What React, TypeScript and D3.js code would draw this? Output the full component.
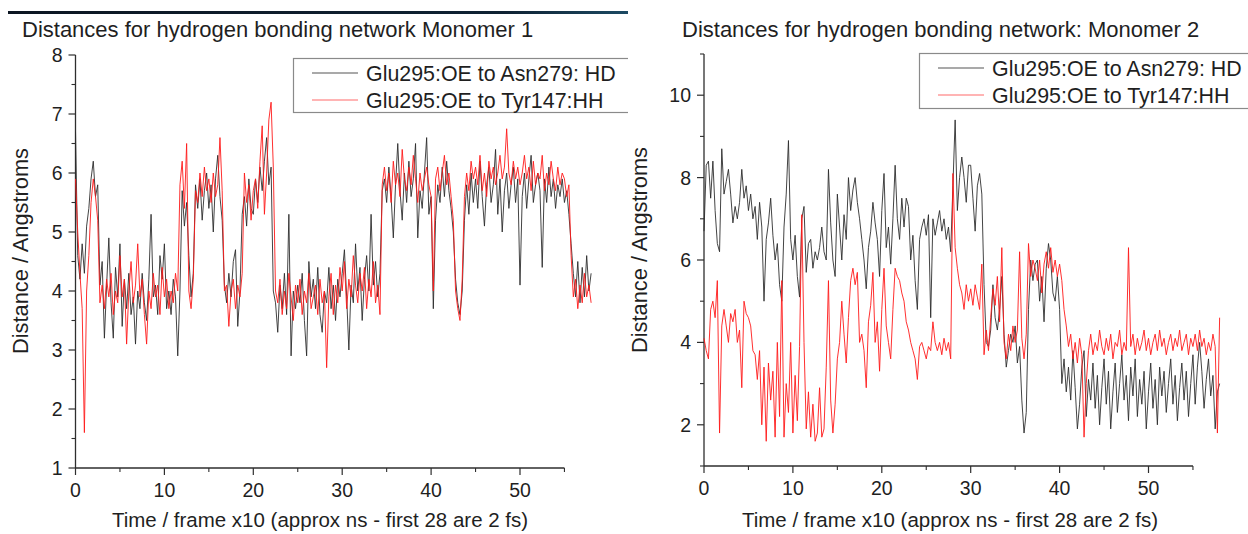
import React from "react";
import * as d3 from "d3";

// time resolution of the sampled series (frame x10 units)
const STEP = 0.25;
const X_DOMAIN: [number, number] = [0, 55];
const xMajor = [0, 10, 20, 30, 40, 50];
const xMinor = [5, 15, 25, 35, 45, 55];
const yMajor1 = [1, 2, 3, 4, 5, 6, 7, 8];
const yMinor1 = [1.5, 2.5, 3.5, 4.5, 5.5, 6.5, 7.5];
const yMajor2 = [2, 4, 6, 8, 10];
const yMinor2 = [1, 3, 5, 7, 9, 11];

const seriesNames = ["Glu295:OE to Asn279: HD", "Glu295:OE to Tyr147:HH"];
const titles = [
  "Distances for hydrogen bonding network Monomer 1",
  "Distances for hydrogen bonding network: Monomer 2",
];
const xLabel = "Time / frame x10 (approx ns - first 28 are 2 fs)";
const yLabel = "Distance / Angstroms";

// Monomer 1 : Glu295:OE to Asn279:HD
const m1Asn = [
  6.7, 4.6, 4.2, 4.8, 4.3, 5.1, 5.4, 5.9, 6.2, 5.6, 5.8, 4.1, 4.5, 3.2, 4.1, 4.9, 3.8, 3.2, 4.4, 3.9,
  4.8, 3.4, 4.2, 3.7, 4.3, 3.6, 3.9, 3.1, 4.0, 3.7, 4.3, 3.8, 3.5, 4.2, 5.3, 3.9, 4.1, 3.6, 4.6, 4.2,
  4.8, 3.7, 4.0, 3.6, 4.2, 3.9, 2.9, 4.0, 5.7, 5.1, 5.5, 4.6, 3.9, 4.3, 5.8, 5.4, 5.9, 5.2, 5.7, 6.0,
  5.4, 5.8, 5.0, 5.9, 6.3, 5.6, 5.2, 4.1, 3.8, 4.3, 3.9, 4.5, 4.7, 3.4, 4.0, 5.3, 5.6, 5.1, 5.9, 5.4,
  5.3, 5.9, 5.5, 6.1, 5.7, 6.2, 6.6, 5.8, 6.1, 4.0, 3.8, 3.3, 4.1, 3.7, 4.3, 3.6, 5.3, 2.9, 4.0, 3.7,
  4.1, 3.8, 4.3, 3.5, 2.9, 4.5, 3.9, 4.2, 3.7, 4.4, 3.6, 3.3, 4.0, 3.8, 4.4, 3.7, 4.1, 3.5, 4.2, 3.9,
  4.3, 4.7, 3.9, 3.0, 4.1, 3.8, 4.8, 4.0, 4.4, 3.5, 4.2, 4.6, 4.0, 5.3, 4.1, 4.5, 3.9, 4.3, 5.7, 5.9,
  5.5, 6.1, 5.6, 4.9, 5.8, 6.5, 5.7, 5.2, 6.0, 5.5, 6.2, 5.6, 5.9, 6.5, 4.9, 5.7, 5.4, 6.0, 6.6, 5.3,
  5.6, 3.7, 5.2, 5.8, 5.5, 6.1, 5.6, 6.2, 5.7, 5.4, 5.0, 4.2, 3.8, 3.6, 4.0, 5.2, 5.8, 5.3, 6.0, 5.5,
  5.9, 5.4, 6.2, 5.6, 5.1, 5.8, 6.1, 5.5, 5.8, 6.4, 5.3, 5.9, 5.0, 5.7, 6.0, 5.4, 5.8, 6.1, 5.5, 5.9,
  4.1, 5.6, 6.0, 5.4, 5.9, 6.3, 5.5, 5.8, 6.0, 5.7, 4.4, 5.9, 5.5, 6.1, 5.6, 5.9, 5.4, 5.8, 5.6, 5.9,
  5.5, 5.7, 5.3, 4.8, 4.3, 3.9, 4.5, 3.8, 4.4, 3.9, 4.6, 4.0, 4.3,
];

// Monomer 1 : Glu295:OE to Tyr147:HH
const m1Tyr = [
  5.9, 5.0, 4.3, 3.7, 1.6, 4.0, 4.6, 5.5, 5.9, 5.6, 5.2, 3.8, 4.1, 3.7, 4.2, 3.9, 4.3, 3.6, 4.0, 3.8,
  4.6, 3.9, 4.2, 3.1, 4.0, 4.5, 3.8, 4.1, 4.8, 3.9, 4.2, 3.6, 3.1, 4.0, 3.7, 4.3, 3.9, 4.1, 3.6, 4.4,
  3.9, 4.2, 3.7, 4.0, 3.8, 4.3, 4.0, 5.8, 6.2, 5.4, 6.5, 4.0, 3.7, 4.2, 5.7, 5.5, 6.0, 5.6, 6.1, 5.7,
  5.9, 5.5, 6.0, 5.6, 5.8, 6.6, 5.7, 4.0, 4.1, 3.4, 4.0, 4.2, 3.7, 4.1, 3.9, 4.3, 6.0, 5.5, 5.8, 5.2,
  5.7, 5.9, 5.4, 6.2, 6.8, 5.3, 6.0, 6.9, 7.2, 6.1, 4.0, 3.8, 4.2, 3.6, 4.0, 3.7, 4.3, 3.9, 3.5, 4.1,
  3.8, 4.2, 3.6, 4.0, 3.8, 4.3, 3.7, 3.9, 4.1, 3.6, 4.2, 3.8, 4.0, 2.7, 3.9, 4.3, 3.6, 4.1, 3.8, 4.4,
  4.0, 4.5, 3.7, 4.2, 3.9, 4.6, 4.1, 3.8, 4.3, 4.0, 4.4, 3.7, 4.2, 3.9, 4.5, 3.8, 4.1, 3.6, 5.8, 6.1,
  5.7, 6.0, 5.5, 6.2, 5.8, 6.0, 5.6, 6.4, 5.9, 5.7, 6.1, 5.8, 6.3, 5.9, 5.5, 6.0, 5.7, 5.9, 6.1, 5.8,
  5.6, 4.0, 5.9, 6.1, 5.7, 6.0, 6.3, 5.8, 6.0, 5.6, 5.2, 4.0, 3.7, 3.5, 4.2, 5.6, 6.0, 5.7, 6.2, 5.9,
  6.1, 5.8, 6.3, 5.7, 6.0, 5.6, 6.2, 5.9, 6.1, 5.8, 6.0, 6.3, 5.9, 6.1, 6.75, 6.0, 5.8, 6.2, 5.9, 6.1,
  5.8, 6.0, 6.3, 5.9, 6.1, 5.7, 6.2, 5.8, 6.0, 5.9, 6.3, 5.7, 6.0, 5.8, 6.2, 5.9, 5.7, 6.1, 5.8, 6.0,
  5.9, 5.6, 5.8, 4.6, 3.9, 4.2, 3.7, 4.1, 3.8, 4.3, 3.9, 4.1, 3.8,
];

// Monomer 2 : Glu295:OE to Asn279:HD
const m2Asn = [
  6.7, 8.3, 8.4, 7.5, 8.4, 7.2, 6.4, 6.2, 8.7, 7.6, 7.9, 8.2, 7.6, 6.9, 7.3, 7.0, 7.4, 8.2, 7.5, 7.8,
  7.2, 7.6, 7.0, 7.3, 6.5, 7.4, 6.8, 5.0, 6.5, 6.9, 7.5, 6.6, 6.0, 6.4, 5.4, 5.0, 6.8, 7.6, 8.9, 6.5,
  6.0, 6.6, 5.6, 5.1, 7.0, 7.3, 5.7, 6.4, 6.5, 5.8, 6.2, 6.0, 6.3, 6.8, 6.2, 6.0, 8.2, 6.9, 6.0, 5.6,
  7.6, 6.8, 6.0, 7.1, 6.5, 8.0, 7.2, 7.7, 8.0, 7.4, 7.0, 6.5, 6.0, 5.3, 6.3, 6.7, 7.4, 6.9, 6.5, 5.6,
  7.2, 8.1, 6.3, 6.8, 5.9, 7.0, 8.3, 7.0, 6.5, 7.5, 6.8, 7.5, 7.3, 6.0, 6.6, 5.5, 4.8, 6.5, 6.8, 7.0,
  6.6, 7.1, 4.6, 7.0, 6.6, 6.9, 7.2, 6.7, 7.0, 6.5, 6.8, 6.2, 7.8, 9.4, 7.2, 8.0, 8.5, 8.0, 7.4, 8.3,
  8.3, 7.5, 6.7, 7.8, 8.1, 7.6, 5.4, 4.0, 3.9, 4.3, 5.4, 4.6, 4.3, 4.8, 5.6, 4.2, 3.4, 3.8, 4.2, 4.0,
  4.4, 3.5, 3.9, 2.6, 1.8, 2.3, 4.8, 6.0, 5.5, 5.9, 6.0, 5.0, 5.6, 4.5, 5.8, 6.4, 6.0, 5.2, 5.0, 5.6,
  4.8, 3.0, 3.6, 2.8, 3.4, 2.6, 3.8, 2.9, 1.9, 2.5, 3.4, 3.8, 2.2, 3.1, 2.6, 3.5, 2.4, 3.2, 2.0, 2.9,
  3.6, 2.5, 3.3, 1.9, 2.8, 3.5, 2.3, 3.0, 3.7, 2.6, 3.2, 2.1, 3.4, 2.7, 3.6, 2.2, 3.1, 2.5, 3.3, 1.9,
  2.8, 3.5, 2.4, 3.1, 2.0, 3.4, 2.7, 3.3, 2.3, 3.0, 3.6, 2.5, 3.2, 2.1, 2.9, 3.5, 2.6, 3.3, 2.2, 3.0,
  3.7, 2.5, 3.4, 4.0, 3.3, 2.4, 3.1, 3.6, 2.7, 3.2, 1.9, 2.8, 3.0,
];

// Monomer 2 : Glu295:OE to Tyr147:HH
const m2Tyr = [
  4.1, 3.8, 3.6, 4.8, 5.0, 4.6, 5.5, 1.8, 4.4, 4.8, 4.4, 4.0, 4.7, 4.5, 4.8, 4.0, 4.3, 2.9, 5.0, 4.7,
  4.6, 4.4, 3.8, 3.7, 3.1, 3.8, 2.0, 3.4, 1.6, 3.5, 2.6, 3.3, 1.7, 4.0, 2.2, 5.5, 1.7, 3.0, 2.3, 4.0,
  1.8, 3.2, 2.1, 3.9, 7.1, 4.0, 1.9, 2.8, 1.7, 2.5, 1.6, 1.8, 2.9, 1.7, 1.9, 3.4, 5.5, 2.6, 1.8, 2.5,
  3.6, 4.0, 5.0, 4.2, 3.5, 4.6, 5.5, 5.8, 5.4, 5.7, 4.0, 4.2, 3.8, 2.9, 4.5, 4.9, 5.7, 4.0, 4.5, 3.3,
  4.8, 5.8, 4.4, 4.0, 3.6, 4.8, 5.8, 5.6, 5.5, 5.2, 5.0, 4.5, 4.3, 4.0, 3.8, 3.6, 3.1, 3.9, 4.0, 3.8,
  3.6, 3.9, 3.8, 4.5, 4.0, 3.8, 4.0, 3.7, 4.1, 3.8, 4.0, 3.6, 8.1, 6.3, 5.8, 5.4, 5.2, 4.8, 5.4, 5.0,
  5.3, 4.9, 5.4, 5.1, 4.8, 5.9, 3.7, 4.3, 3.8, 4.6, 5.3, 4.9, 5.6, 4.5, 6.3, 4.0, 3.6, 4.2, 3.8, 4.4,
  4.0, 4.3, 6.2, 4.1, 3.6, 4.2, 6.4, 5.6, 6.0, 5.8, 5.5, 6.0, 5.2, 5.9, 6.2, 5.8, 6.3, 5.7, 6.0, 5.6,
  5.9, 5.5, 4.8, 4.4, 3.9, 4.2, 3.6, 4.0, 3.5, 4.1, 3.7, 1.7, 3.0, 3.8, 4.2, 3.7, 4.0, 3.8, 4.3, 3.9,
  3.7, 4.1, 3.8, 4.2, 3.6, 4.0, 3.9, 4.3, 3.7, 4.0, 3.8, 6.3, 3.9, 4.2, 3.7, 4.1, 3.8, 4.0, 4.3, 3.8,
  4.1, 3.7, 4.0, 4.2, 3.8, 4.3, 3.9, 4.1, 3.7, 4.0, 4.2, 3.8, 4.1, 3.9, 4.3, 3.8, 4.0, 4.2, 3.7, 4.1,
  3.9, 4.2, 3.8, 4.3, 3.9, 4.1, 3.7, 4.0, 3.8, 4.2, 3.9, 1.8, 4.6,
];

const FONT = "'Liberation Sans', Arial, Helvetica, sans-serif";
const TEXT = "#1f1f1f";
const AXIS = "#2e2e2e";
const BLACK_LINE = "#2a2a2a";
const RED_LINE = "#ff1a1a";

type PanelCfg = {
  left: number;
  right: number;
  top: number;
  bottom: number;
  yDomain: [number, number];
  yMajor: number[];
  yMinor: number[];
  asn: number[];
  tyr: number[];
  title: string;
  titleX: number;
  titleY: number;
  xLabelX: number;
  xLabelY: number;
  yLabelX: number;
  yLabelY: number;
  xTickY: number;
  legendX: number;
  legendY: number;
  legendH: number;
  legendRow1: number;
  legendRow2: number;
  clip?: string;
};

function Panel({ cfg }: { cfg: PanelCfg }) {
  const x = d3.scaleLinear().domain(X_DOMAIN).range([cfg.left, cfg.right]);
  const y = d3.scaleLinear().domain(cfg.yDomain).range([cfg.bottom, cfg.top]);
  const line = d3
    .line<number>()
    .x((_, i) => x(i * STEP))
    .y((d) => y(d));
  const x0 = x(0);
  const yb = y(cfg.yDomain[0]);
  const major = 7;
  const minor = 4;
  const legLineX1 = cfg.legendX + 19;
  const legLineX2 = cfg.legendX + 65;
  const legTextX = cfg.legendX + 73;
  return (
    <g clipPath={cfg.clip ? `url(#${cfg.clip})` : undefined}>
      <text x={cfg.titleX} y={cfg.titleY} fontSize={22} fill={TEXT} fontFamily={FONT}>
        {cfg.title}
      </text>
      {/* y axis */}
      <line x1={x0} x2={x0} y1={yb} y2={y(cfg.yDomain[1])} stroke={AXIS} strokeWidth={1.3} />
      {cfg.yMajor.map((v) => (
        <g key={"ym" + v}>
          <line x1={x0 - major} x2={x0} y1={y(v)} y2={y(v)} stroke={AXIS} strokeWidth={1.2} />
          <text
            x={x0 - 13}
            y={y(v) + 7}
            textAnchor="end"
            fontSize={19.5}
            fill={TEXT}
            fontFamily={FONT}
          >
            {v}
          </text>
        </g>
      ))}
      {cfg.yMinor.map((v) => (
        <line key={"yn" + v} x1={x0 - minor} x2={x0} y1={y(v)} y2={y(v)} stroke={AXIS} strokeWidth={1.1} />
      ))}
      {/* x axis */}
      <line x1={x0} x2={x(X_DOMAIN[1])} y1={yb} y2={yb} stroke={AXIS} strokeWidth={1.3} />
      {xMajor.map((v) => (
        <g key={"xm" + v}>
          <line x1={x(v)} x2={x(v)} y1={yb} y2={yb + major} stroke={AXIS} strokeWidth={1.2} />
          <text
            x={x(v)}
            y={cfg.xTickY}
            textAnchor="middle"
            fontSize={19.5}
            fill={TEXT}
            fontFamily={FONT}
          >
            {v}
          </text>
        </g>
      ))}
      {xMinor.map((v) => (
        <line key={"xn" + v} x1={x(v)} x2={x(v)} y1={yb} y2={yb + minor} stroke={AXIS} strokeWidth={1.1} />
      ))}
      {/* axis labels */}
      <text
        x={cfg.xLabelX}
        y={cfg.xLabelY}
        textAnchor="middle"
        fontSize={20.5}
        fill={TEXT}
        fontFamily={FONT}
      >
        {xLabel}
      </text>
      <text
        transform={`translate(${cfg.yLabelX},${cfg.yLabelY}) rotate(-90)`}
        textAnchor="middle"
        fontSize={21.8}
        fill={TEXT}
        fontFamily={FONT}
      >
        {yLabel}
      </text>
      {/* series */}
      <path d={line(cfg.asn) || ""} fill="none" stroke={BLACK_LINE} strokeWidth={1} strokeOpacity={0.88} />
      <path d={line(cfg.tyr) || ""} fill="none" stroke={RED_LINE} strokeWidth={1} strokeOpacity={0.9} />
      {/* legend */}
      <rect
        x={cfg.legendX + 0.5}
        y={cfg.legendY + 0.5}
        width={360}
        height={cfg.legendH}
        fill="#fff"
        stroke="#8a8a8a"
        strokeWidth={1.2}
      />
      <line x1={legLineX1} x2={legLineX2} y1={cfg.legendRow1} y2={cfg.legendRow1} stroke="#555" strokeWidth={1.2} />
      <line x1={legLineX1} x2={legLineX2} y1={cfg.legendRow2} y2={cfg.legendRow2} stroke="#ff6a6a" strokeWidth={1.2} />
      <text x={legTextX} y={cfg.legendRow1 + 7.5} fontSize={21.4} fill={TEXT} fontFamily={FONT}>
        {seriesNames[0]}
      </text>
      <text x={legTextX} y={cfg.legendRow2 + 7.5} fontSize={21.4} fill={TEXT} fontFamily={FONT}>
        {seriesNames[1]}
      </text>
    </g>
  );
}

const panel1: PanelCfg = {
  left: 75.5,
  right: 75.5 + 55 * 8.89,
  top: 55,
  bottom: 468,
  yDomain: [1, 8],
  yMajor: yMajor1,
  yMinor: yMinor1,
  asn: m1Asn,
  tyr: m1Tyr,
  title: titles[0],
  titleX: 22,
  titleY: 37,
  xLabelX: 320,
  xLabelY: 527,
  yLabelX: 28,
  yLabelY: 251,
  xTickY: 497,
  legendX: 293,
  legendY: 58,
  legendH: 54,
  legendRow1: 73,
  legendRow2: 100,
  clip: "leftClip",
};

const panel2: PanelCfg = {
  left: 704,
  right: 704 + 55 * 8.89,
  top: 54,
  bottom: 466,
  yDomain: [1, 11],
  yMajor: yMajor2,
  yMinor: yMinor2,
  asn: m2Asn,
  tyr: m2Tyr,
  title: titles[1],
  titleX: 682,
  titleY: 37,
  xLabelX: 950,
  xLabelY: 527,
  yLabelX: 647,
  yLabelY: 250,
  xTickY: 495,
  legendX: 919,
  legendY: 53,
  legendH: 55,
  legendRow1: 68,
  legendRow2: 95,
};

export default function App() {
  return (
    <svg
      width={1248}
      height={534}
      viewBox="0 0 1248 534"
      style={{ position: "absolute", left: 0, top: 0, background: "#fff" }}
    >
      <defs>
        <clipPath id="leftClip">
          <rect x={0} y={0} width={628} height={534} />
        </clipPath>
        <linearGradient id="barGrad" x1="0" x2="1" y1="0" y2="0">
          <stop offset="0" stopColor="#0c1622" />
          <stop offset="0.8" stopColor="#0f2233" />
          <stop offset="1" stopColor="#1c4a63" />
        </linearGradient>
      </defs>
      <rect x={0} y={0} width={1248} height={534} fill="#fff" />
      <rect x={8} y={11} width={620} height={3} fill="url(#barGrad)" />
      <Panel cfg={panel1} />
      <Panel cfg={panel2} />
    </svg>
  );
}
